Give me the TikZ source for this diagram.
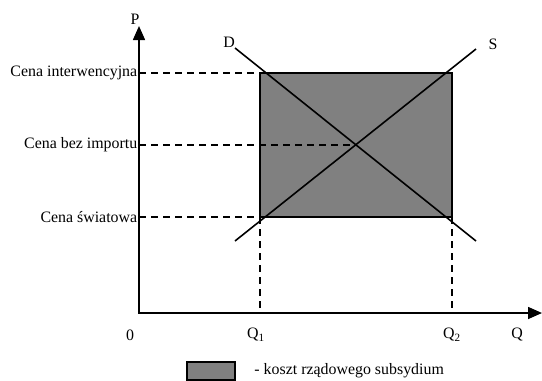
\documentclass[tikz,border=0pt]{standalone}
\usepackage{fontspec}
\setmainfont{Liberation Serif}
\usetikzlibrary{arrows.meta, positioning}

\begin{document}
\begin{tikzpicture}[x=1pt,y=-1pt,>={Triangle[length=14pt,width=12pt]},line width=1.6pt,
                every node/.style={font=\fontsize{15.9}{19}\selectfont},
                guide/.style={dash pattern=on 7pt off 5pt,line width=1.3pt},
                subsidy/.style={draw,fill=black!50,line width=1.3pt}]
                \useasboundingbox (0,0) rectangle (542,381);
                % axes
                \coordinate (0) at (139,313);
                \coordinate (Pend) at (139,26);
                \coordinate (Qend) at (542,313);
                % subsidy area and equilibrium
                \coordinate (a) at (260,73);
                \coordinate (b) at (452,217);
                \coordinate (e) at (356,145);
                \draw[subsidy] (a) rectangle (b);
                \draw[<->] (Pend) |- (Qend);
                \node (P) at (135,19) {P};
                \node (zero) at (130,335) {0};
                \node (Q) at (517,335) {Q};
                \node (Q1) at (256,335) {Q\textsubscript{1}};
                \node (Q2) at (452,335) {Q\textsubscript{2}};
                % demand and supply
                \coordinate (D1) at (235,48);
                \coordinate (D2) at (476,241);
                \coordinate (S1) at (235,241);
                \coordinate (S2) at (476,49);
                \draw (D1) -- (D2);
                \draw (S1) -- (S2);
                \node (D) at (229,42) {D};
                \node (S) at (493,44) {S};
                % price levels
                \node[anchor=east,inner sep=1pt] (ci) at (139,73) {Cena interwencyjna};
                \node[anchor=east,inner sep=1pt] (cb) at (139,145) {Cena bez importu};
                \node[anchor=east,inner sep=1pt] (cs) at (139,217) {Cena światowa};
                \path[guide]
                (ci.east) edge (a)
                (cb.east) edge (e)
                (cs.east) edge (a |- b)
                (a |- b) edge (a |- 0)
                (b) edge (b |- 0)
                ;
                % legend
                \node[subsidy,minimum width=48pt,minimum height=18pt,inner sep=0pt] (key) at (211,371) {};
                \node[right=17pt of key,inner sep=1pt] (keytext) {- koszt rządowego subsydium};
            \end{tikzpicture}
\end{document}
